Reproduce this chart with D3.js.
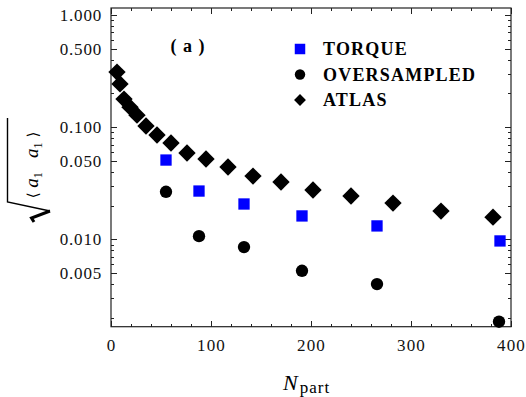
<!DOCTYPE html>
<html>
<head>
<meta charset="utf-8">
<script src="https://cdn.jsdelivr.net/npm/d3@7"></script>
<style>
  body { margin: 0; background: #fff; }
</style>
</head>
<body>
<div id="chart"></div>
<script>
// values
const torqueNpart = [55, 88, 133, 191, 266, 389];
const torqueVals  = [0.0510, 0.0270, 0.0207, 0.0162, 0.0132, 0.0097];

const overNpart = [55, 88, 133, 191, 266, 388];
const overVals  = [0.0266, 0.0107, 0.00855, 0.00526, 0.0040, 0.00185];

const atlasNpart = [6, 9, 13, 19, 26, 35, 46, 60, 76, 95, 117, 142, 170, 202, 240, 282, 330, 382];
const atlasVals  = [0.310, 0.243, 0.178, 0.151, 0.128, 0.1025, 0.0852, 0.0723, 0.0589, 0.0521,
                    0.0442, 0.0367, 0.0325, 0.0276, 0.0244, 0.0211, 0.0179, 0.0158];

const xMajor = [0, 100, 200, 300, 400];
const yMajor = [1, 0.5, 0.1, 0.05, 0.01, 0.005];
const legendLabels = ["TORQUE", "OVERSAMPLED", "ATLAS"];

const SERIF = "'Liberation Serif', 'Times New Roman', Times, 'DejaVu Serif', serif";

const W = 526, H = 397;
const margin = { left: 111, right: 15, top: 8, bottom: 70 };

const svg = d3.select("#chart").append("svg")
  .attr("width", W).attr("height", H)
  .style("font-family", SERIF);
svg.append("rect").attr("width", W).attr("height", H).attr("fill", "#fff");

// scales
const x = d3.scaleLinear().domain([0, 400]).range([margin.left, W - margin.right]);
const y = d3.scaleLog().domain([0.00167, 1.154]).range([H - margin.bottom - 0.3, margin.top]);

// minor ticks: every 20 on x, 2..9 per decade on y
const xMinor = d3.range(0, 401, 20).filter(v => v % 100 !== 0);
const yMinor = [];
[0.001, 0.01, 0.1].forEach(d => d3.range(2, 10).forEach(k => {
  const v = +(k * d).toPrecision(3);
  if (v >= 0.00167 && v <= 1.154 && !yMajor.includes(v)) yMinor.push(v);
}));

const x0 = x.range()[0], x1 = x.range()[1];
const y0 = y.range()[0], y1 = y.range()[1];

function tickGroup(axis, tx, ty) {
  const g = svg.append("g").attr("transform", `translate(${tx},${ty})`).call(axis);
  g.attr("font-family", null).attr("font-size", null);
  g.select(".domain").remove();
  g.selectAll("line").attr("stroke", "#222").attr("shape-rendering", "crispEdges");
  return g;
}

// bottom
const gb = tickGroup(d3.axisBottom(x).tickValues(xMajor).tickSize(-6).tickPadding(12), 0, y0);
gb.selectAll("text").style("font-family", SERIF).attr("font-size", 17)
  .attr("letter-spacing", 1.2).attr("fill", "#111");
tickGroup(d3.axisBottom(x).tickValues(xMinor).tickSize(-3).tickFormat(""), 0, y0);
// top
tickGroup(d3.axisTop(x).tickValues(xMajor).tickSize(-6).tickFormat(""), 0, y1);
tickGroup(d3.axisTop(x).tickValues(xMinor).tickSize(-3).tickFormat(""), 0, y1);
// left
const gl = tickGroup(d3.axisLeft(y).tickValues(yMajor).tickSize(-6).tickPadding(9)
  .tickFormat(d3.format(".3f")), x0, 0);
gl.selectAll("text").style("font-family", SERIF).attr("font-size", 17)
  .attr("letter-spacing", 0.8).attr("fill", "#111");
tickGroup(d3.axisLeft(y).tickValues(yMinor).tickSize(-3).tickFormat(""), x0, 0);
// right
tickGroup(d3.axisRight(y).tickValues(yMajor).tickSize(-6).tickFormat(""), x1, 0);
tickGroup(d3.axisRight(y).tickValues(yMinor).tickSize(-3).tickFormat(""), x1, 0);

// frame
svg.append("rect")
  .attr("x", x0).attr("y", y1).attr("width", x1 - x0).attr("height", y0 - y1)
  .attr("fill", "none").attr("stroke", "#222").attr("stroke-width", 1.2);

// markers
const diamond = d3.symbol().type(d3.symbolSquare).size(150);
const square = d3.symbol().type(d3.symbolSquare).size(128);
const circle = d3.symbol().type(d3.symbolCircle).size(120);

const plot = svg.append("g");

plot.selectAll(".atlas").data(atlasNpart).join("path")
  .attr("class", "atlas")
  .attr("d", diamond)
  .attr("transform", (d, i) => `translate(${x(d)},${y(atlasVals[i])}) rotate(45)`)
  .attr("fill", "#000");

plot.selectAll(".torque").data(torqueNpart).join("path")
  .attr("class", "torque")
  .attr("d", square)
  .attr("transform", (d, i) => `translate(${x(d)},${y(torqueVals[i])})`)
  .attr("fill", "#0000ff");

plot.selectAll(".over").data(overNpart).join("path")
  .attr("class", "over")
  .attr("d", circle)
  .attr("transform", (d, i) => `translate(${x(d)},${y(overVals[i])})`)
  .attr("fill", "#000");

// panel label
svg.append("text")
  .attr("x", 188).attr("y", 52)
  .attr("text-anchor", "middle")
  .attr("font-size", 18).attr("font-weight", "bold")
  .attr("letter-spacing", 1)
  .text("( a )");

// legend
const legendSymbols = [
  { sym: d3.symbol().type(d3.symbolSquare).size(110), fill: "#0000ff", rot: 0 },
  { sym: d3.symbol().type(d3.symbolCircle).size(85), fill: "#000", rot: 0 },
  { sym: d3.symbol().type(d3.symbolSquare).size(70), fill: "#000", rot: 45 }
];
const legend = svg.append("g").attr("transform", "translate(300,49)");
legendLabels.forEach((lab, i) => {
  const row = legend.append("g").attr("transform", `translate(0,${i * 25.5})`);
  row.append("path")
    .attr("d", legendSymbols[i].sym)
    .attr("transform", `rotate(${legendSymbols[i].rot})`)
    .attr("fill", legendSymbols[i].fill);
  row.append("text")
    .attr("x", 23).attr("y", 6)
    .attr("font-size", 18).attr("font-weight", "bold")
    .attr("letter-spacing", 1.2)
    .text(lab);
});

// y-axis title: sqrt(<a1 a1>)
const yt = svg.append("g").attr("transform", "rotate(-90)");
const ytxt = yt.append("text")
  .attr("x", -165).attr("y", 38)
  .attr("text-anchor", "middle")
  .attr("font-size", 19);
ytxt.append("tspan").style("font-family", "'DejaVu Serif', serif").attr("font-size", 15).text("\u27E8 ");
ytxt.append("tspan").attr("font-style", "italic").text("a");
ytxt.append("tspan").attr("font-size", 12).attr("dy", 4).text("1");
ytxt.append("tspan").attr("dy", -4).text("\u2002 ");
ytxt.append("tspan").attr("font-style", "italic").text("a");
ytxt.append("tspan").attr("font-size", 12).attr("dy", 4).text("1");
ytxt.append("tspan").attr("dy", -4).style("font-family", "'DejaVu Serif', serif").attr("font-size", 15).text(" \u27E9");

// radical sign
svg.append("path")
  .attr("d", "M50,211 L7.5,202 L7.5,118")
  .attr("fill", "none").attr("stroke", "#000").attr("stroke-width", 1.4);
svg.append("path")
  .attr("d", "M34,222 L31.5,218 L50,211")
  .attr("fill", "none").attr("stroke", "#000").attr("stroke-width", 3)
  .attr("stroke-linejoin", "miter");

// x-axis title
const xt = svg.append("text")
  .attr("x", 283).attr("y", 389.5);
xt.append("tspan").attr("font-style", "italic").attr("font-size", 22).text("N");
xt.append("tspan").attr("font-size", 17).attr("dy", 3).attr("dx", 2)
  .attr("letter-spacing", 1).text("part");
</script>
</body>
</html>
